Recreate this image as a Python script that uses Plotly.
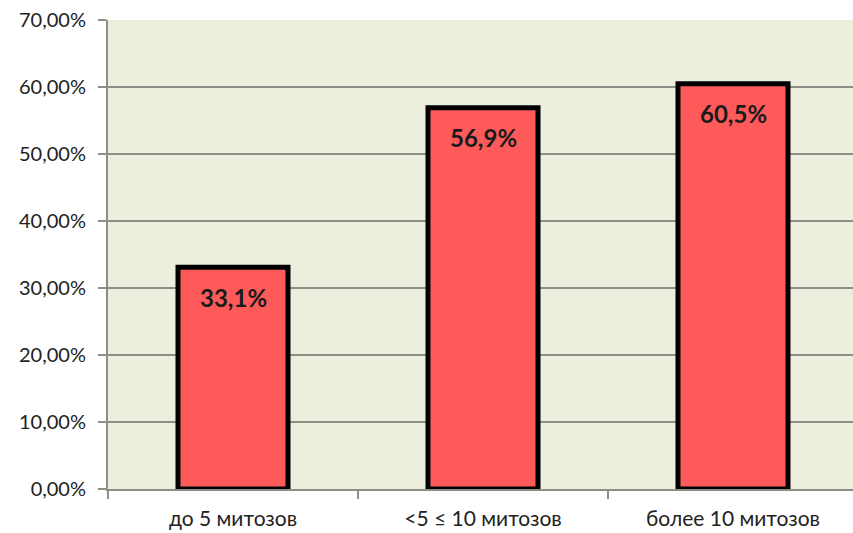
import plotly.graph_objects as go

categories = ["до 5 митозов", "<5 ≤ 10 митозов", "более 10 митозов"]
values = [0.331, 0.569, 0.605]
labels = ["33,1%", "56,9%", "60,5%"]
y_ticks = [0, 0.1, 0.2, 0.3, 0.4, 0.5, 0.6, 0.7]

fig = go.Figure(
    go.Bar(
        x=categories,
        y=values,
        width=0.44,
        marker=dict(color="#FF5A5A", line=dict(color="#000000", width=5)),
        hoverinfo="x+y",
    )
)

# value labels placed just below the top of each bar
for cat, val, lab in zip(categories, values, labels):
    fig.add_annotation(
        x=cat,
        y=val,
        text=lab,
        showarrow=False,
        yshift=-30,
        font=dict(family="Lato, sans-serif", size=24, color="#1a1a1a", weight="bold"),
    )

fig.update_layout(
    width=853,
    height=533,
    margin=dict(l=108, r=0, t=20, b=44),
    paper_bgcolor="#FFFFFF",
    plot_bgcolor="#ECEEDE",
    separators=", ",
    showlegend=False,
    font=dict(family="Lato, sans-serif", size=19, color="#222222"),
)

fig.update_yaxes(
    range=[0, 0.7],
    tickvals=y_ticks,
    tickformat=".2%",
    showgrid=True,
    gridcolor="#8E8E86",
    gridwidth=2,
    zeroline=False,
    showline=True,
    linecolor="#8E8E86",
    linewidth=2,
    ticks="outside",
    ticklen=8,
    tickwidth=2,
    tickcolor="#8E8E86",
    ticklabelstandoff=8,
    tickfont=dict(size=20),
    automargin=False,
)

fig.update_xaxes(
    range=[-0.5, 2.48],
    showgrid=False,
    showline=True,
    linecolor="#8E8E86",
    linewidth=2,
    ticks="outside",
    tickson="boundaries",
    ticklen=8,
    tickwidth=2,
    tickcolor="#8E8E86",
    ticklabelstandoff=10,
    tickfont=dict(size=21),
    automargin=False,
)

fig.write_html("out.html")
